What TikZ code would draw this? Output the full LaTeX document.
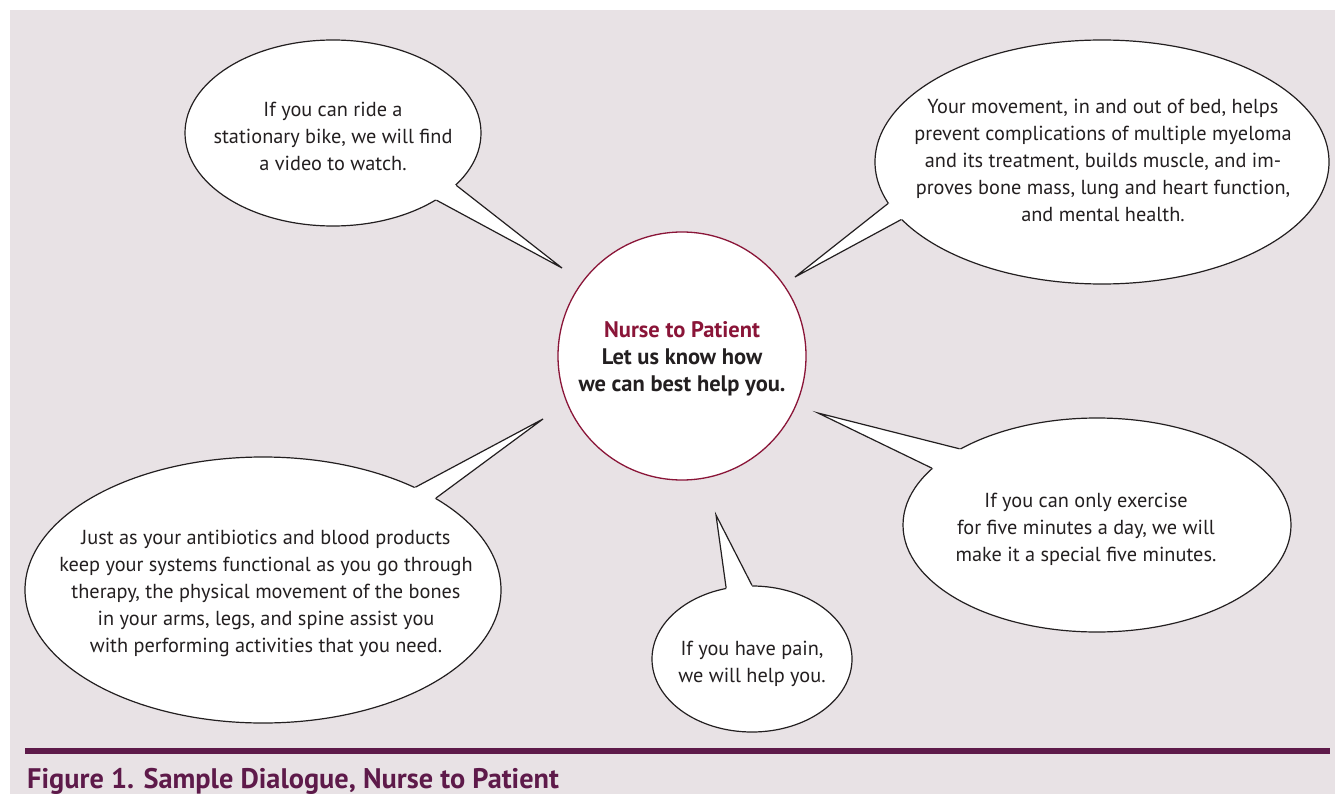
\documentclass[tikz,border=0pt]{standalone}
\usepackage{fontspec}
\setmainfont{PT Sans}
\usetikzlibrary{shapes.geometric,calc}

\definecolor{bgpink}{HTML}{E8E2E5}
\definecolor{ink}{HTML}{231F20}
\definecolor{crimson}{HTML}{8A1538}
\definecolor{plum}{HTML}{5E1A4A}

\begin{document}
\begin{tikzpicture}[x=1pt, y=-1pt,
  bubble/.style={ellipse, draw=ink, line width=1.2pt, fill=white, inner sep=0pt},
  tail/.style={draw=ink, line width=1.2pt, line join=miter},
  bubble text/.style={align=center, text=ink, font=\fontsize{20.3}{27}\selectfont}]

\useasboundingbox (0,0) rectangle (1335,794);
\fill [bgpink] (10,10) rectangle (1335,794);

% speech bubbles
\foreach \n/\cx/\cy/\rx/\ry in {1/333/133/148/93, 2/1102/162/227/122, 3/263/590/238/133, 4/752/659/100/73, 5/1097/525/194/107}
  \node [bubble, minimum width={2*\rx pt}, minimum height={2*\ry pt}] (bubble-\n) at (\cx,\cy) {};

\foreach \n/\x/\y in {1/562/268, 2/795/277, 3/543/419, 4/716/515, 5/818/413}
  \coordinate (tip-\n) at (\x,\y);

\foreach \n/\a/\b in {1/-33/-23, 2/191/196, 3/34/28, 4/110/90, 5/151/161} {
  \fill [white] (bubble-\n.\a) -- (tip-\n) -- (bubble-\n.\b)
    -- ($(bubble-\n.\b)!0.08!(bubble-\n.center)$) -- ($(bubble-\n.\a)!0.08!(bubble-\n.center)$) -- cycle;
  \draw [tail] (bubble-\n.\a) -- (tip-\n) -- (bubble-\n.\b);
}

% centre
\node [circle, draw=crimson, line width=1.3pt, fill=white, minimum size=248pt, inner sep=0pt] (nurse) at (682,356) {};
\node [align=center, text=ink, font=\bfseries\fontsize{22.5}{27}\selectfont] (nurse-text) at (682,359)
  {\textcolor{crimson}{Nurse to Patient}\\Let us know how\\we can best help you.};

\node [bubble text] (text-1) at (333,136) {If you can ride a\\stationary bike, we will find\\a video to watch.};
\node [bubble text] (text-2) at (1103,160) {Your movement, in and out of bed, helps\\prevent complications of multiple myeloma\\and its treatment, builds muscle, and im-\\proves bone mass, lung and heart function,\\and mental health.};
\node [bubble text] (text-3) at (266,593) {Just as your antibiotics and blood products\\keep your systems functional as you go through\\therapy, the physical movement of the bones\\in your arms, legs, and spine assist you\\with performing activities that you need.};
\node [bubble text] (text-4) at (752,664) {If you have pain,\\we will help you.};
\node [bubble text] (text-5) at (1086,529) {If you can only exercise\\for five minutes a day, we will\\make it a special five minutes.};

% caption
\fill [plum] (25,747.5) rectangle (1330,753.5);
\node [anchor=base west, inner sep=0pt, text=plum, font=\bfseries\fontsize{28.3}{30}\selectfont] (caption) at (27,788)
  {Figure 1. Sample Dialogue, Nurse to Patient};

\end{tikzpicture}
\end{document}
